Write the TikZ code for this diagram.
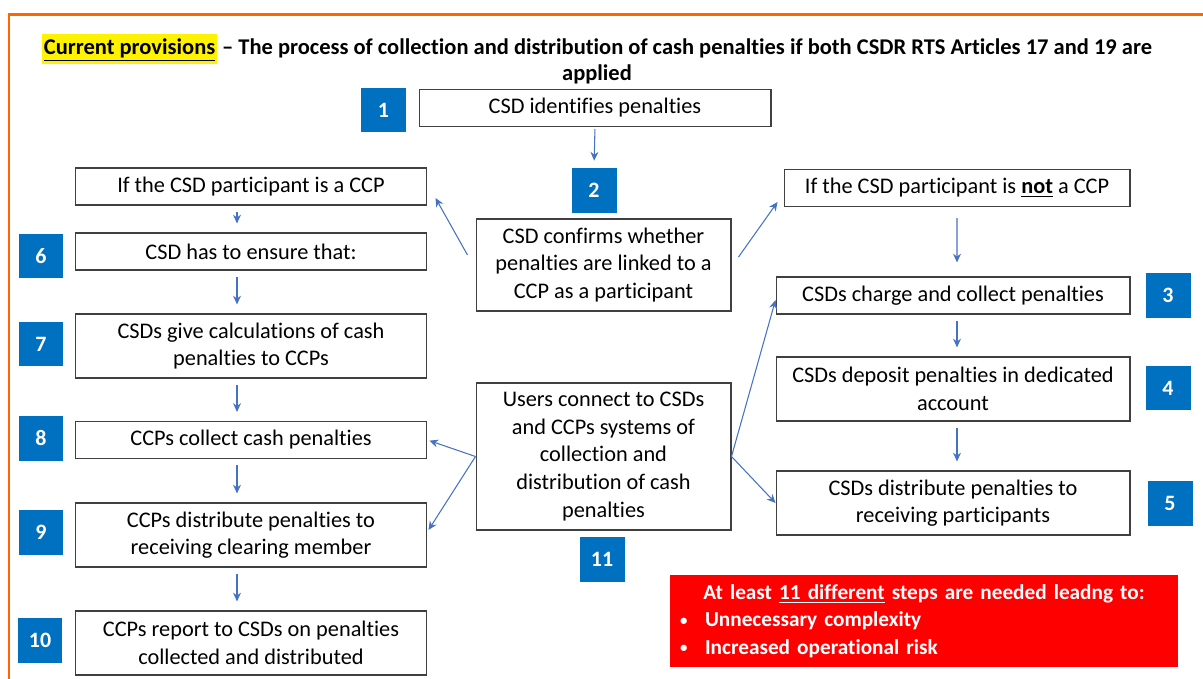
\documentclass[tikz,border=0pt]{standalone}
\usepackage{fontspec}
\setmainfont[Ligatures={TeX,NoCommon}]{Carlito}
\usepackage{xcolor}
\usepackage{tikz}
\usetikzlibrary{positioning,arrows.meta}
\definecolor{numblue}{HTML}{0070C0}
\definecolor{linkblue}{HTML}{4472C4}
\definecolor{frameorange}{HTML}{FF6600}
\definecolor{boxgray}{HTML}{404040}
\definecolor{warnred}{HTML}{FF0000}
\setlength{\fboxsep}{1pt}
\newcommand{\warnbullet}{\makebox[0.5cm][l]{\raisebox{0.15ex}{\scalebox{0.7}{\textbullet}}}}

\begin{document}
\begin{tikzpicture}[x=0.02cm,y=-0.02cm,
  box/.style={draw=boxgray,line width=0.6pt,fill=white,align=center,minimum width=7.04cm,minimum height=0.74cm,inner sep=2pt,font=\fontsize{12.7}{15.7}\selectfont},
  num/.style={fill=numblue,text=white,font=\fontsize{12.5}{14}\selectfont\bfseries,minimum size=0.9cm,inner sep=0pt},
  link/.style={linkblue,line width=0.6pt,-{Stealth[length=5pt,width=4.5pt]}},
  flow/.style={link,shorten <=0.12cm,shorten >=0.18cm}]
\useasboundingbox (0,0) rectangle (1203,679);
\draw[frameorange,line width=0.06cm] (9,679) -- (9,15) -- (1203,15);
\node[font=\fontsize{12.8}{15.3}\selectfont\bfseries,align=center] (title) at (597,59) {\colorbox{yellow}{\strut\underline{Current provisions}} – The process of collection and distribution of cash penalties if both CSDR RTS Articles 17 and 19 are\\applied};
\node[box] (box1) at (595,108) {CSD identifies penalties};
\node[box,minimum width=5.1cm,minimum height=1.84cm] (box2) at (603.5,265) {CSD confirms whether\\penalties are linked to a\\CCP as a participant};
\node[box] (ifccp) at (251,186.5) {If the CSD participant is a CCP};
\node[box,minimum width=6.92cm] (ifnot) at (957,188) {If the CSD participant is \underline{\textbf{not}} a CCP};
\node[box] (box6) at (251,251.5) {CSD has to ensure that:};
\node[box,minimum height=1.28cm] (box7) at (251,346) {CSDs give calculations of cash\\penalties to CCPs};
\node[box] (box8) at (251,440) {CCPs collect cash penalties};
\node[box,minimum height=1.28cm] (box9) at (251,535) {CCPs distribute penalties to\\receiving clearing member};
\node[box,minimum height=1.28cm] (box10) at (251,643) {CCPs report to CSDs on penalties\\collected and distributed};
\node[box,minimum width=7.08cm] (box3) at (953,295.5) {CSDs charge and collect penalties};
\node[box,minimum width=7.08cm,minimum height=1.28cm] (box4) at (953,389) {CSDs deposit penalties in dedicated\\account};
\node[box,minimum width=7.08cm,minimum height=1.28cm] (box5) at (953,503) {CSDs distribute penalties to\\receiving participants};
\node[box,minimum width=5.1cm,minimum height=2.94cm] (box11) at (603.5,456.5) {Users connect to CSDs\\and CCPs systems of\\collection and\\distribution of cash\\penalties};
\node[num] (n1) at (383.5,110) {1};
\node[num] (n2) at (594,190.5) {2};
\node[num] (n3) at (1168,295.5) {3};
\node[num] (n4) at (1168,388) {4};
\node[num] (n5) at (1170,503) {5};
\node[num] (n6) at (41,256) {6};
\node[num] (n7) at (41,344) {7};
\node[num] (n8) at (41,438) {8};
\node[num] (n9) at (41,532) {9};
\node[num] (n10) at (40,640.5) {10};
\node[num] (n11) at (602,559.5) {11};
\node[fill=warnred,minimum width=10.16cm,minimum height=1.84cm,text width=9.76cm,inner xsep=0.2cm,text=white,font=\fontsize{12.1}{15.6}\selectfont\bfseries,align=left] (warn) at (924,621) {\makebox[9.76cm][c]{At least \underline{11 different} steps are needed leadng to:}\\\warnbullet Unnecessary complexity\\\warnbullet Increased operational risk};
\draw[link,shorten <=0.04cm,shorten >=0.14cm] (box1.south) -- (n2.north);
\draw[link] ([shift={(-8,-10)}]box2.west) -- ([shift={(8,11.5)}]ifccp.east);
\draw[link] ([shift={(7,-8)}]box2.east) -- ([shift={(-6,14)}]ifnot.west);
\draw[flow] ([xshift=-0.28cm]ifccp.south) -- ([xshift=-0.28cm]box6.north);
\draw[flow] ([xshift=-0.28cm]box6.south) -- ([xshift=-0.28cm]box7.north);
\draw[flow] ([xshift=-0.28cm]box7.south) -- ([xshift=-0.28cm]box8.north);
\draw[flow] ([xshift=-0.28cm]box8.south) -- ([xshift=-0.28cm]box9.north);
\draw[flow] ([xshift=-0.28cm]box9.south) -- ([xshift=-0.28cm]box10.north);
\draw[flow,shorten <=0.22cm,shorten >=0.28cm] (ifnot.south) -- ([xshift=0.08cm]box3.north);
\draw[flow] ([xshift=0.08cm]box3.south) -- ([xshift=0.08cm]box4.north);
\draw[flow] ([xshift=0.08cm]box4.south) -- ([xshift=0.08cm]box5.north);
\draw[link,shorten >=0.04cm] (box11.west) -- (box8.east);
\draw[link] (box11.west) -- ([shift={(1,-5)}]box9.east);
\draw[link] (box11.east) -- ([yshift=-0.09cm]box3.west);
\draw[link] (box11.east) -- (box5.west);
\end{tikzpicture}
\end{document}
